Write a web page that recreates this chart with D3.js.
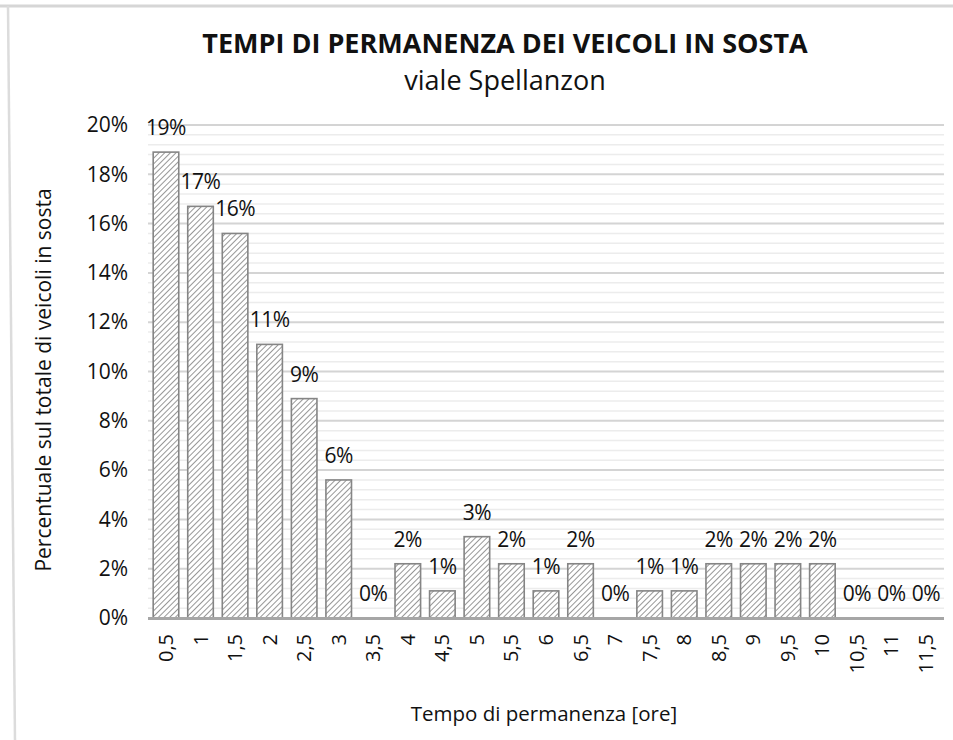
<html>
<head>
<script src="https://d3js.org/d3.v7.min.js"></script>
<style>
  body { margin: 0; background: #fff; }
  svg text { font-family: "Open Sans", sans-serif; fill: #111; }
</style>
</head>
<body>
<div id="chart"></div>
<script>
// durata della sosta [ore]
var categories = ["0,5","1","1,5","2","2,5","3","3,5","4","4,5","5","5,5","6",
                  "6,5","7","7,5","8","8,5","9","9,5","10","10,5","11","11,5"];
// percentuale sul totale (%)
var values = [18.9, 16.7, 15.6, 11.1, 8.9, 5.6, 0, 2.2, 1.1, 3.3, 2.2, 1.1,
              2.2, 0, 1.1, 1.1, 2.2, 2.2, 2.2, 2.2, 0, 0, 0];
var yTicks = [0, 2, 4, 6, 8, 10, 12, 14, 16, 18, 20];
var yMinor = d3.range(0, 20.01, 0.4);

var width = 953, height = 740;
var plotL = 148, plotR = 944, plotT = 125, plotB = 618;

var svg = d3.select("#chart").append("svg")
  .attr("width", width)
  .attr("height", height);

// hatch pattern
var defs = svg.append("defs");
var pat = defs.append("pattern")
  .attr("id", "hatch")
  .attr("patternUnits", "userSpaceOnUse")
  .attr("width", 4).attr("height", 4)
  .attr("patternTransform", "rotate(45)");
pat.append("rect").attr("width", 4).attr("height", 4).attr("fill", "#fff");
pat.append("line").attr("x1", 0).attr("y1", 0).attr("x2", 0).attr("y2", 4)
  .attr("stroke", "#5e5e5e").attr("stroke-width", 1.3);

// frame of the sheet
svg.append("line").attr("x1", 0).attr("x2", width).attr("y1", 6).attr("y2", 6)
  .attr("stroke", "#d6d6d6").attr("stroke-width", 3);
svg.append("line").attr("x1", 8).attr("x2", 15).attr("y1", 6).attr("y2", height)
  .attr("stroke", "#dcdcdc").attr("stroke-width", 2.5);

var x = d3.scaleBand().domain(categories).range([plotL, plotR])
  .paddingInner(0.26).paddingOuter(0.15);
var y = d3.scaleLinear().domain([0, 20]).range([plotB, plotT]);

function isMajor(d) { return Math.abs(d / 2 - Math.round(d / 2)) < 0.01; }

// gridlines
svg.append("g").selectAll("line").data(yMinor).enter().append("line")
  .attr("x1", plotL).attr("x2", plotR)
  .attr("y1", function(d) { return y(d); })
  .attr("y2", function(d) { return y(d); })
  .attr("stroke", function(d) { return isMajor(d) ? "#d4d4d4" : "#ececec"; })
  .attr("stroke-width", function(d) { return isMajor(d) ? 2 : 1.5; });

// bars
svg.append("g").selectAll("rect").data(values).enter().append("rect")
  .attr("x", function(d, i) { return x(categories[i]); })
  .attr("y", function(d) { return y(d); })
  .attr("width", x.bandwidth())
  .attr("height", function(d) { return y(0) - y(d); })
  .attr("fill", "url(#hatch)")
  .attr("stroke", "#858585")
  .attr("stroke-width", 1.6)
  .style("display", function(d) { return d > 0 ? null : "none"; });

// x axis line
svg.append("line").attr("x1", plotL).attr("x2", plotR)
  .attr("y1", y(0) + 0.5).attr("y2", y(0) + 0.5)
  .attr("stroke", "#a6a6a6").attr("stroke-width", 3);

// data labels
svg.append("g").selectAll("text").data(values).enter().append("text")
  .attr("x", function(d, i) { return x(categories[i]) + x.bandwidth() / 2; })
  .attr("y", function(d) { return y(d) - 17; })
  .attr("text-anchor", "middle")
  .style("font-size", "21px")
  .style("letter-spacing", "-0.5px")
  .text(function(d) { return Math.round(d) + "%"; });

// y axis
var yAxis = svg.append("g")
  .attr("transform", "translate(" + plotL + ",0)")
  .call(d3.axisLeft(y).tickValues(yTicks).tickSize(0).tickPadding(20)
    .tickFormat(function(d) { return d + "%"; }));
yAxis.select(".domain").remove();
yAxis.selectAll("text").style("font-size", "21px").attr("fill", "#111");

// x axis
var xAxis = svg.append("g")
  .attr("transform", "translate(0," + plotB + ")")
  .call(d3.axisBottom(x).tickSize(0));
xAxis.select(".domain").remove();
xAxis.selectAll("text")
  .style("font-size", "20px")
  .attr("fill", "#111")
  .attr("text-anchor", "end")
  .attr("transform", "rotate(-90)")
  .attr("x", -16)
  .attr("y", 0)
  .attr("dy", "0.35em");

// titles
svg.append("text").attr("x", 505).attr("y", 53)
  .attr("text-anchor", "middle")
  .style("font-size", "27px").style("font-weight", "bold")
  .text("TEMPI DI PERMANENZA DEI VEICOLI IN SOSTA");
svg.append("text").attr("x", 505).attr("y", 90)
  .attr("text-anchor", "middle")
  .style("font-size", "27px")
  .text("viale Spellanzon");

svg.append("text").attr("x", 544).attr("y", 721)
  .attr("text-anchor", "middle")
  .style("font-size", "20.5px")
  .text("Tempo di permanenza [ore]");

svg.append("text")
  .attr("transform", "translate(51,380) rotate(-90)")
  .attr("text-anchor", "middle")
  .style("font-size", "21px")
  .text("Percentuale sul totale di veicoli in sosta");
</script>
</body>
</html>
